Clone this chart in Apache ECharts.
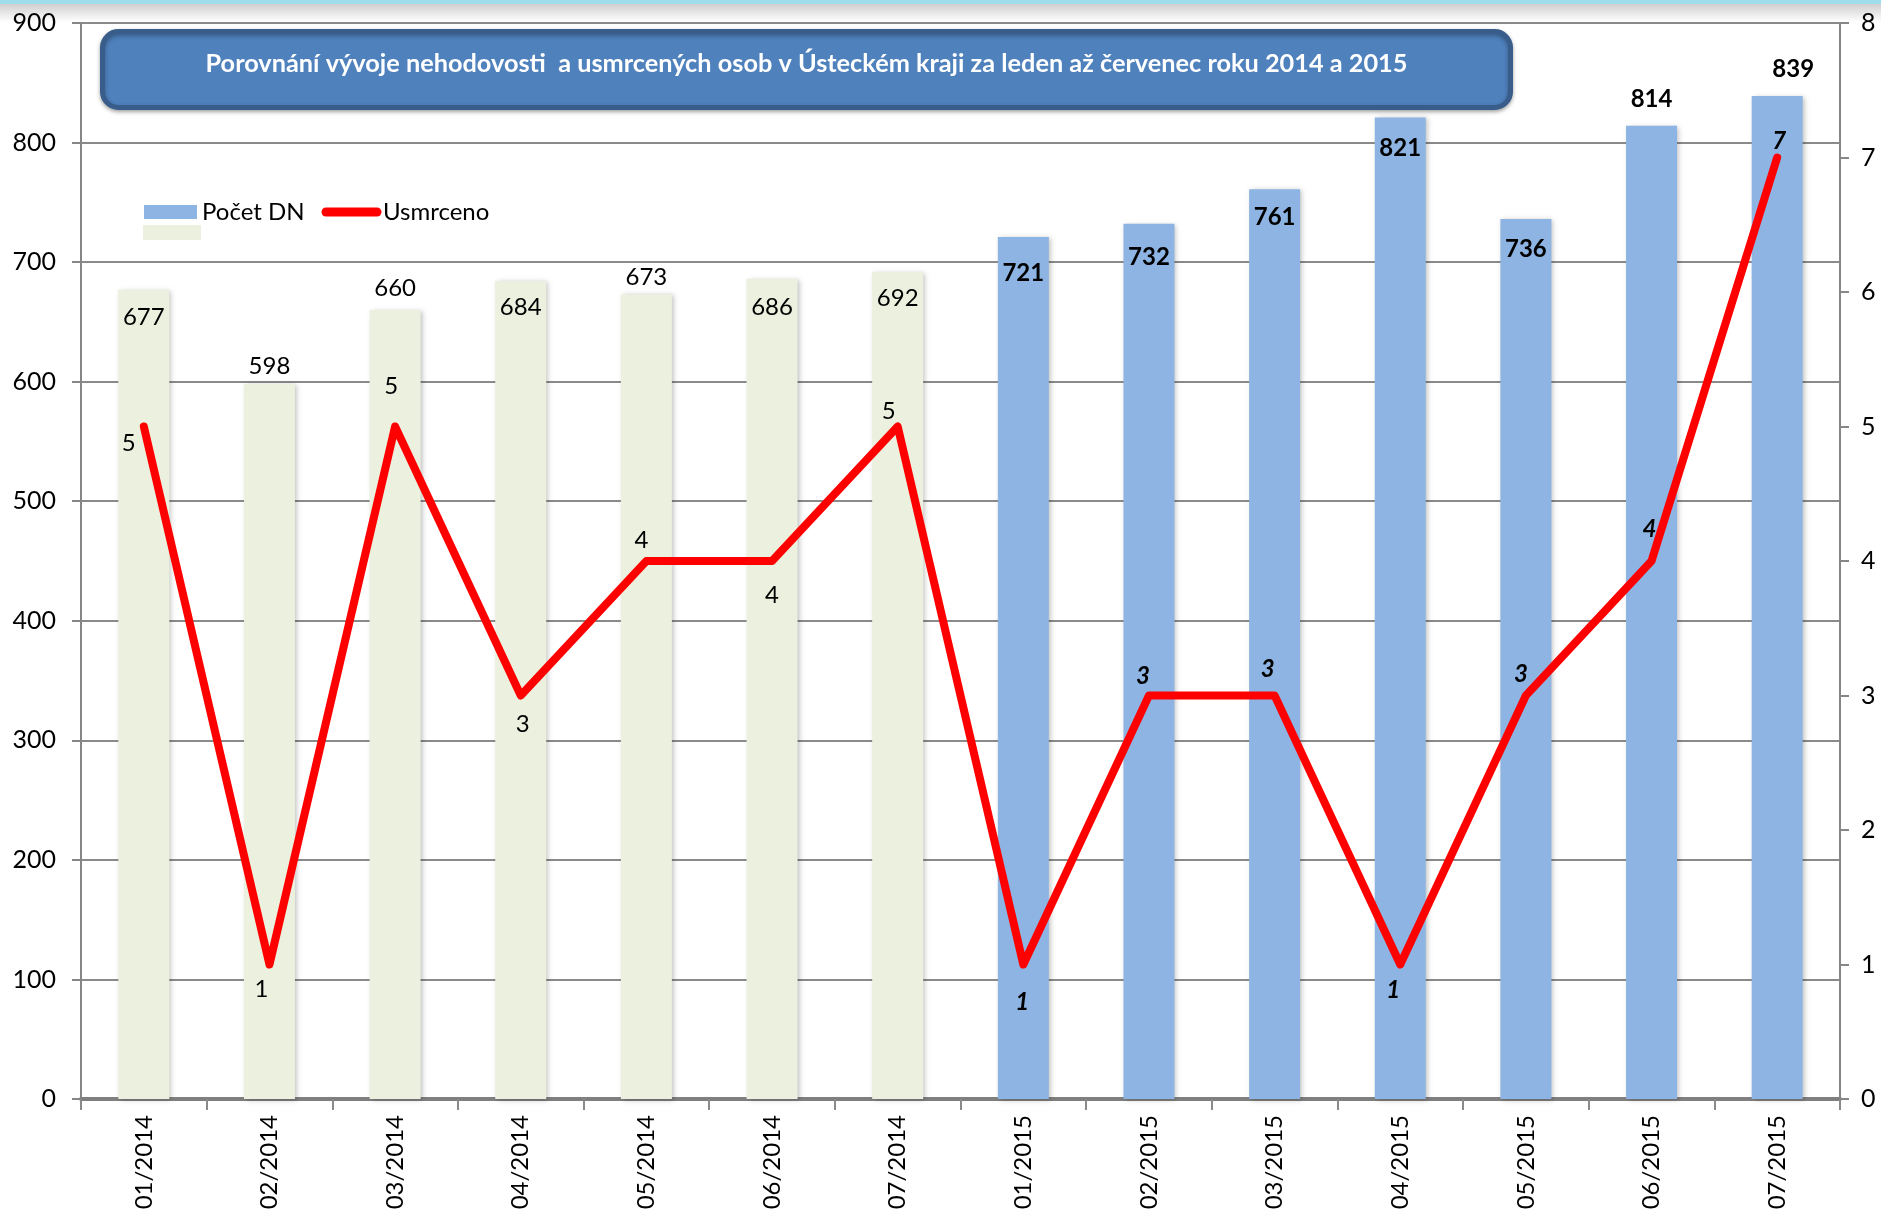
<!DOCTYPE html>
<html><head><meta charset="utf-8">
<script src="https://cdn.jsdelivr.net/npm/echarts@6/dist/echarts.min.js"></script>
<style>html,body{margin:0;padding:0;background:#fff}#c{width:1881px;height:1214px}</style>
</head><body><div id="c"></div>
<script>
// ---- data ----
const categories = ['01/2014','02/2014','03/2014','04/2014','05/2014','06/2014','07/2014',
                    '01/2015','02/2015','03/2015','04/2015','05/2015','06/2015','07/2015'];
const accidents = [677, 598, 660, 684, 673, 686, 692, 721, 732, 761, 821, 736, 814, 839];
const killed    = [5, 1, 5, 3, 4, 4, 5, 1, 3, 3, 1, 3, 4, 7];
const leftAxis  = {min: 0, max: 900, step: 100};
const rightAxis = {min: 0, max: 8, step: 1};
const titleText = 'Porovnání vývoje nehodovosti  a usmrcených osob v Ústeckém kraji za leden až červenec roku 2014 a 2015';
const seriesNames = ['Počet DN', 'Usmrceno'];

// ---- label placement (px, relative to bar top / line point) ----
const barLabelPos  = [[0,28],[0,-18],[0,-22],[0,26],[0,-17],[0,28],[0,27],[0,36],[0,33],[0,28],[0,31],[0,30],[0,-27],[16,-27]];
const lineLabelPos = [[-15,17],[-8,25],[-4,-40],[2,29],[-5,-21],[0,34],[-9,-15],[-1,38],[-6,-19],[-7,-26],[-7,26],[-5,-21],[-2,-32],[2,-16]];

const FONT = 'Lato';
const is2015 = c => c.endsWith('2015');

const chart = echarts.init(document.getElementById('c'));
const barData = accidents.map((v, i) => {
  const n = is2015(categories[i]);
  return {
    value: v,
    itemStyle: { color: n ? '#8DB4E2' : '#EBF1DE' },
    label: {
      show: true,
      position: ['50%', barLabelPos[i][1]],
      offset: [barLabelPos[i][0], 0],
      align: 'center', verticalAlign: 'middle',
      fontWeight: n ? 'bold' : 'normal'
    }
  };
});
const lineData = killed.map((v, i) => {
  const n = is2015(categories[i]);
  return {
    value: v,
    label: {
      show: true, position: 'inside',
      offset: lineLabelPos[i],
      fontWeight: n ? 'bold' : 'normal',
      fontStyle: n ? 'italic' : 'normal'
    }
  };
});

chart.setOption({
  animation: false,
  backgroundColor: '#fff',
  grid: { left: 81, right: 41, top: 23, bottom: 115 },
  xAxis: {
    type: 'category', data: categories, boundaryGap: true,
    axisLine: { lineStyle: { color: '#7f7f7f', width: 4 } },
    axisTick: { show: true, interval: 0, length: 11, lineStyle: { color: '#8a8a8a', width: 2 } },
    axisLabel: { rotate: 90, interval: 0, fontSize: 24, fontFamily: FONT, color: '#000', margin: 16 }
  },
  yAxis: [
    {
      type: 'value', min: leftAxis.min, max: leftAxis.max, interval: leftAxis.step,
      axisLine: { show: true, lineStyle: { color: '#868686', width: 2 } },
      axisTick: { show: true, length: 9, lineStyle: { color: '#868686', width: 2 } },
      axisLabel: { fontSize: 25, fontFamily: FONT, color: '#000', margin: 25 },
      splitLine: { show: true, lineStyle: { color: '#8a8a8a', width: 2 } }
    },
    {
      type: 'value', min: rightAxis.min, max: rightAxis.max, interval: rightAxis.step,
      axisLine: { show: true, lineStyle: { color: '#868686', width: 2 } },
      axisTick: { show: true, length: 9, lineStyle: { color: '#868686', width: 2 } },
      axisLabel: { fontSize: 25, fontFamily: FONT, color: '#000', margin: 21 },
      splitLine: { show: false }
    }
  ],
  series: [
    {
      name: seriesNames[0], type: 'bar', yAxisIndex: 0, barWidth: 51,
      data: barData,
      itemStyle: { shadowBlur: 5, shadowColor: 'rgba(0,0,0,0.25)', shadowOffsetX: 2, shadowOffsetY: 1 },
      label: { show: true, fontSize: 24, fontFamily: FONT, color: '#000' }
    },
    {
      name: seriesNames[1], type: 'line', yAxisIndex: 1,
      data: lineData, symbol: 'circle', symbolSize: 2, showSymbol: true,
      itemStyle: { color: '#FF0000' },
      lineStyle: { color: '#FF0000', width: 8, cap: 'round', join: 'round' },
      label: { show: true, fontSize: 24, fontFamily: FONT, color: '#000' },
      z: 5
    }
  ],
  graphic: [
    { type: 'rect', left: 0, top: 0, shape: { width: 1881, height: 4 }, style: { fill: '#9fdcec' }, silent: true },
    { type: 'rect', left: 0, top: 4, shape: { width: 1881, height: 18 },
      style: { fill: new echarts.graphic.LinearGradient(0, 0, 0, 1, [{offset:0,color:'#cfcfcf'},{offset:1,color:'#ffffff'}]) }, silent: true },
    {
      type: 'group', left: 100, top: 29,
      children: [
        { type: 'rect', shape: { x: 0, y: 0, width: 1408, height: 76, r: 16 },
          style: { fill: '#4F81BD', stroke: '#385D8A', lineWidth: 5, shadowBlur: 4, shadowColor: 'rgba(0,0,0,0.3)', shadowOffsetY: 2 } },
        { type: 'text', style: { x: 704, y: 32, text: titleText, fill: '#fff', font: 'bold 25.3px Lato',
          textAlign: 'center', textVerticalAlign: 'middle', align: 'center', verticalAlign: 'middle' } }
      ]
    },
    { type: 'rect', shape: { x: 144, y: 205, width: 53, height: 14 }, style: { fill: '#8DB4E2' } },
    { type: 'rect', shape: { x: 143, y: 225, width: 58, height: 15 }, style: { fill: '#EBF1DE' } },
    { type: 'text', style: { x: 202, y: 212, text: seriesNames[0], fill: '#000', font: '24px Lato', textVerticalAlign: 'middle', verticalAlign: 'middle' } },
    { type: 'line', shape: { x1: 326, y1: 212, x2: 377, y2: 212 }, style: { stroke: '#FF0000', lineWidth: 9, lineCap: 'round' } },
    { type: 'text', style: { x: 383, y: 212, text: seriesNames[1], fill: '#000', font: '24px Lato', textVerticalAlign: 'middle', verticalAlign: 'middle' } }
  ]
});
</script></body></html>
